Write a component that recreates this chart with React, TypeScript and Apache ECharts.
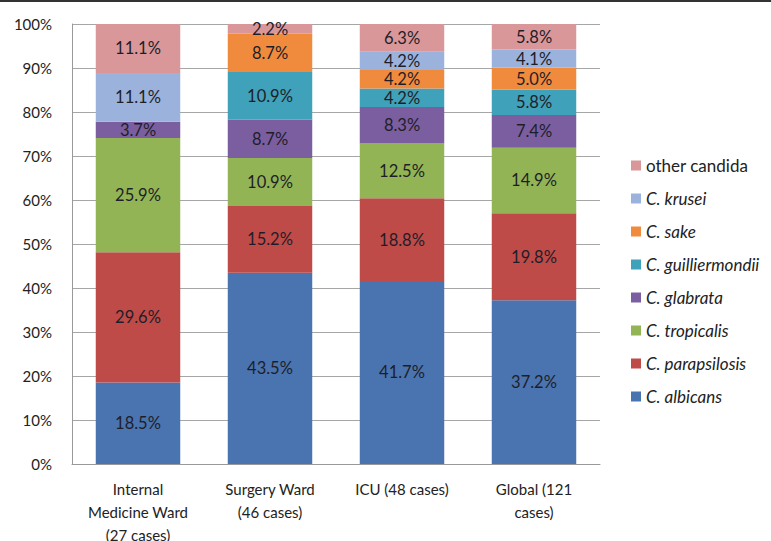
import React, { useEffect, useRef } from "react";
import * as echarts from "echarts";

const categories = [
  "Internal\nMedicine Ward\n(27 cases)",
  "Surgery Ward\n(46 cases)",
  "ICU (48 cases)",
  "Global (121\ncases)",
];

const seriesNames = [
  "C. albicans",
  "C. parapsilosis",
  "C. tropicalis",
  "C. glabrata",
  "C. guilliermondii",
  "C. sake",
  "C. krusei",
  "other candida",
];

const albicans = [18.5, 43.5, 41.7, 37.2];
const parapsilosis = [29.6, 15.2, 18.8, 19.8];
const tropicalis = [25.9, 10.9, 12.5, 14.9];
const glabrata = [3.7, 8.7, 8.3, 7.4];
const guilliermondii = [0, 10.9, 4.2, 5.8];
const sake = [0, 8.7, 4.2, 5.0];
const krusei = [11.1, 0, 4.2, 4.1];
const otherCandida = [11.1, 2.2, 6.3, 5.8];

const seriesValues = [
  albicans,
  parapsilosis,
  tropicalis,
  glabrata,
  guilliermondii,
  sake,
  krusei,
  otherCandida,
];

const colors = [
  "#4A74B0",
  "#BE4B48",
  "#93B455",
  "#7B5E9F",
  "#40A1BA",
  "#F08B3E",
  "#9BB2DC",
  "#D9979A",
];

const yTicks = [0, 10, 20, 30, 40, 50, 60, 70, 80, 90, 100];

const FONT = "Lato, 'Open Sans', sans-serif";

export default function App() {
  const ref = useRef<HTMLDivElement>(null);
  useEffect(() => {
    if (!ref.current) return;
    const chart = echarts.init(ref.current, undefined, { renderer: "svg" });
    const totals = categories.map((_, i) =>
      seriesValues.reduce((s, arr) => s + arr[i], 0)
    );
    const series = seriesNames.map((name, si) => ({
      name,
      type: "bar",
      stack: "total",
      barWidth: "64%",
      itemStyle: { color: colors[si] },
      label: {
        show: true,
        position: "inside",
        color: "#1e1e28",
        fontFamily: FONT,
        fontSize: 16.5,
        formatter: (p: any) => {
          const raw = seriesValues[si][p.dataIndex];
          return raw > 0 ? raw.toFixed(1) + "%" : "";
        },
      },
      data: seriesValues[si].map((v, i) => (v / totals[i]) * 100),
    }));
    chart.setOption({
      animation: false,
      backgroundColor: "#fff",
      textStyle: { fontFamily: FONT },
      graphic: [
        {
          type: "rect",
          shape: { x: 0, y: 0, width: 771, height: 2 },
          style: { fill: "#333" },
        },
      ],
      grid: {
        left: 72,
        top: 24,
        right: 171,
        bottom: 77,
        containLabel: false,
        outerBoundsMode: "none",
      },
      legend: {
        orient: "vertical",
        left: 626,
        top: 152,
        itemWidth: 10,
        itemHeight: 10,
        itemGap: 16,
        icon: "rect",
        data: [...seriesNames].reverse(),
        formatter: (name: string) =>
          name === "other candida" ? name : `{i|${name}}`,
        textStyle: {
          fontFamily: FONT,
          fontSize: 17,
          color: "#222",
          rich: {
            i: { fontStyle: "italic", fontFamily: FONT, fontSize: 17, color: "#222" },
          },
        },
      },
      xAxis: {
        type: "category",
        data: categories,
        axisLine: { show: true, lineStyle: { color: "#999", width: 1 } },
        axisTick: { show: false },
        axisLabel: {
          color: "#222",
          fontFamily: FONT,
          fontSize: 15,
          lineHeight: 23,
          margin: 13,
          interval: 0,
        },
      },
      yAxis: {
        type: "value",
        min: yTicks[0],
        max: yTicks[yTicks.length - 1],
        interval: 10,
        axisLine: { show: true, lineStyle: { color: "#999", width: 1 } },
        axisTick: { show: false },
        splitLine: { show: true, lineStyle: { color: "#a6a6a6", width: 1 } },
        axisLabel: {
          color: "#222",
          fontFamily: FONT,
          fontSize: 15,
          margin: 20,
          formatter: (v: number) => v + "%",
        },
      },
      series,
    });
    return () => chart.dispose();
  }, []);
  return (
    <div
      ref={ref}
      style={{ position: "fixed", left: 0, top: 0, width: 771, height: 541 }}
    />
  );
}
